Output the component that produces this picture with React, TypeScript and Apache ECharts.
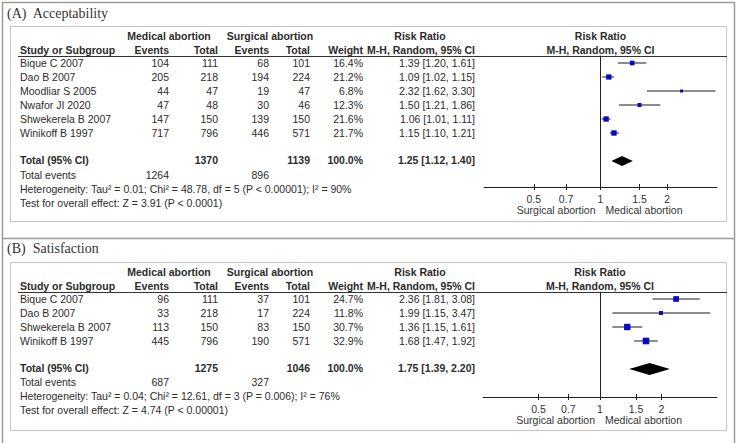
import React, { useEffect, useRef } from "react";
import * as echarts from "echarts";

// ---------- Data: (A) Acceptability ----------
const studiesA = ["Bique C 2007", "Dao B 2007", "Moodliar S 2005", "Nwafor JI 2020", "Shwekerela B 2007", "Winikoff B 1997"];
const medEventsA = [104, 205, 44, 47, 147, 717];
const medTotalA = [111, 218, 47, 48, 150, 796];
const surgEventsA = [68, 194, 19, 30, 139, 446];
const surgTotalA = [101, 224, 47, 46, 150, 571];
const weightA = [16.4, 21.2, 6.8, 12.3, 21.6, 21.7];
const rrA = [1.39, 1.09, 2.32, 1.5, 1.06, 1.15];
const loA = [1.2, 1.02, 1.62, 1.21, 1.01, 1.1];
const hiA = [1.61, 1.15, 3.3, 1.86, 1.11, 1.21];
const totalsA = [1370, 1139];
const totalEventsA = [1264, 896];
const pooledA = [1.25, 1.12, 1.4];
const hetA = "Heterogeneity: Tau\u00b2 = 0.01; Chi\u00b2 = 48.78, df = 5 (P < 0.00001); I\u00b2 = 90%";
const testA = "Test for overall effect: Z = 3.91 (P < 0.0001)";

// ---------- Data: (B) Satisfaction ----------
const studiesB = ["Bique C 2007", "Dao B 2007", "Shwekerela B 2007", "Winikoff B 1997"];
const medEventsB = [96, 33, 113, 445];
const medTotalB = [111, 218, 150, 796];
const surgEventsB = [37, 17, 83, 190];
const surgTotalB = [101, 224, 150, 571];
const weightB = [24.7, 11.8, 30.7, 32.9];
const rrB = [2.36, 1.99, 1.36, 1.68];
const loB = [1.81, 1.15, 1.15, 1.47];
const hiB = [3.08, 3.47, 1.61, 1.92];
const totalsB = [1275, 1046];
const totalEventsB = [687, 327];
const pooledB = [1.75, 1.39, 2.2];
const hetB = "Heterogeneity: Tau\u00b2 = 0.04; Chi\u00b2 = 12.61, df = 3 (P = 0.006); I\u00b2 = 76%";
const testB = "Test for overall effect: Z = 4.74 (P < 0.00001)";

const tickValues = [0.5, 0.7, 1, 1.5, 2];
const titles = ["(A)  Acceptability", "(B)  Satisfaction"];

const ROW_H = 14;
const SANS = "'Liberation Sans', Arial, sans-serif";
const SERIF = "'Liberation Serif', 'Times New Roman', serif";
const TXT = "#2b2b2b";

const layoutA = { titleY: 13, boxTop: 26, boxBottom: 221, head1Y: 36, head2Y: 50, lineY: 56, rowTop: 63, totalIdx: 7, totalY: 160, eventsY: 175, hetY: 189, testY: 203, axisY: 187, gridLeft: 484, gridRight: 717, xRange: 1.21, nameY: 210 };
const layoutB = { titleY: 248, boxTop: 262, boxBottom: 430, head1Y: 272, head2Y: 286, lineY: 292, rowTop: 299, totalIdx: 5, totalY: 368, eventsY: 382, hetY: 396, testY: 410, axisY: 397, gridLeft: 483, gridRight: 717, xRange: 1.32, nameY: 420 };

const panels = [
  { title: titles[0], L: layoutA, studies: studiesA, me: medEventsA, mt: medTotalA, se: surgEventsA, st: surgTotalA, w: weightA, rr: rrA, lo: loA, hi: hiA, totals: totalsA, te: totalEventsA, pooled: pooledA, het: hetA, test: testA },
  { title: titles[1], L: layoutB, studies: studiesB, me: medEventsB, mt: medTotalB, se: surgEventsB, st: surgTotalB, w: weightB, rr: rrB, lo: loB, hi: hiB, totals: totalsB, te: totalEventsB, pooled: pooledB, het: hetB, test: testB },
];

const COL = { study: 20, me: 169, mt: 218, se: 269, st: 310, w: 363, rr: 475 };

function txt(text: string, x: number, y: number, align = "left", bold = false, size = 10.5, color = TXT, family = SANS) {
  return {
    type: "text",
    silent: true,
    style: {
      text, x, y,
      textAlign: align, align,
      textVerticalAlign: "middle", verticalAlign: "middle",
      font: `${bold ? "bold " : ""}${size}px ${family}`,
      fill: color,
    },
  };
}

function fmtCI(r: number, l: number, h: number) {
  return `${r.toFixed(2)} [${l.toFixed(2)}, ${h.toFixed(2)}]`;
}

function buildOption() {
  const grids: any[] = [];
  const xAxes: any[] = [];
  const yAxes: any[] = [];
  const series: any[] = [];
  const graphics: any[] = [];

  // outer frame and separator
  graphics.push({ type: "rect", silent: true, shape: { x: 2.5, y: 2.5, width: 732, height: 460 }, style: { fill: "none", stroke: "#9a9a9a", lineWidth: 1.5 } });
  graphics.push({ type: "line", silent: true, shape: { x1: 2, y1: 238.5, x2: 735, y2: 238.5 }, style: { stroke: "#9a9a9a", lineWidth: 1.5 } });

  panels.forEach((p, gi) => {
    const L = p.L;
    const width = L.gridRight - L.gridLeft;
    const center = L.gridLeft + width / 2;
    const yMax = (L.axisY - L.rowTop) / ROW_H;
    grids.push({ left: L.gridLeft, top: L.lineY, width, height: L.axisY - L.lineY });

    const tickLn = tickValues.map((t) => Math.log(t));
    xAxes.push({
      type: "value", gridIndex: gi, min: -L.xRange, max: L.xRange, position: "bottom",
      axisLine: { show: true, onZero: false, lineStyle: { color: "#222", width: 1 } },
      axisTick: { show: true, length: 3, customValues: tickLn, lineStyle: { color: "#222" } },
      axisLabel: {
        show: true, customValues: tickLn, margin: 6, color: "#333", fontSize: 10.5, fontFamily: SANS,
        formatter: (v: number) => {
          const i = tickValues.findIndex((t) => Math.abs(Math.log(t) - v) < 1e-6);
          return i >= 0 ? String(tickValues[i]) : "";
        },
      },
      splitLine: { show: false },
    });
    xAxes.push({
      type: "value", gridIndex: gi, min: -L.xRange, max: L.xRange, position: "bottom",
      axisLine: { show: false, onZero: false },
      axisTick: { show: true, inside: true, length: 3, customValues: tickLn, lineStyle: { color: "#222" } },
      axisLabel: { show: false },
      splitLine: { show: false },
    });
    yAxes.push({
      type: "value", gridIndex: gi, min: -0.5, max: yMax, inverse: true,
      axisLine: { show: true, onZero: true, onZeroAxisIndex: gi * 2, lineStyle: { color: "#222", width: 1 } },
      axisTick: { show: false }, axisLabel: { show: false }, splitLine: { show: false },
    });

    // studies: CI lines + squares
    const data = p.rr.map((r, i) => [Math.log(r), Math.log(p.lo[i]), Math.log(p.hi[i]), i, p.w[i]]);
    series.push({
      type: "custom", xAxisIndex: gi * 2, yAxisIndex: gi, silent: true,
      encode: { x: [0, 1, 2], y: 3 },
      data,
      renderItem: (params: any, api: any) => {
        const y = api.value(3);
        const a = api.coord([api.value(1), y]);
        const b = api.coord([api.value(2), y]);
        const c = api.coord([api.value(0), y]);
        const s = Math.sqrt(api.value(4)) * 1.15;
        return {
          type: "group",
          children: [
            { type: "line", shape: { x1: a[0], y1: a[1], x2: b[0], y2: b[1] }, style: { stroke: "#1a1a1a", lineWidth: 1 } },
            { type: "rect", shape: { x: c[0] - s / 2, y: c[1] - s / 2, width: s, height: s }, style: { fill: "#0a0ac4" } },
          ],
        };
      },
    });
    // pooled diamond
    series.push({
      type: "custom", xAxisIndex: gi * 2, yAxisIndex: gi, silent: true,
      encode: { x: [0, 1, 2], y: 3 },
      data: [[Math.log(p.pooled[0]), Math.log(p.pooled[1]), Math.log(p.pooled[2]), L.totalIdx]],
      renderItem: (params: any, api: any) => {
        const y = api.value(3);
        const l = api.coord([api.value(1), y]);
        const r = api.coord([api.value(2), y]);
        const c = api.coord([api.value(0), y]);
        const h = gi === 0 ? 5 : 6;
        return {
          type: "polygon",
          shape: { points: [[l[0], l[1]], [c[0], c[1] - h], [r[0], r[1]], [c[0], c[1] + h]] },
          style: { fill: "#000" },
        };
      },
    });

    // title and box
    graphics.push(txt(p.title, 7, L.titleY, "left", false, 14, "#333", SERIF));
    graphics.push({ type: "rect", silent: true, shape: { x: 10.5, y: L.boxTop + 0.5, width: 716, height: L.boxBottom - L.boxTop }, style: { fill: "none", stroke: "#c4c4c4", lineWidth: 1 } });
    graphics.push({ type: "line", silent: true, shape: { x1: 18, y1: L.lineY + 0.5, x2: 727, y2: L.lineY + 0.5 }, style: { stroke: "#333", lineWidth: 1 } });

    // headers
    graphics.push(txt("Medical abortion", 169, L.head1Y, "center", true));
    graphics.push(txt("Surgical abortion", 270, L.head1Y, "center", true));
    graphics.push(txt("Risk Ratio", 420, L.head1Y, "center", true));
    graphics.push(txt("Risk Ratio", center, L.head1Y, "center", true));
    graphics.push(txt("Study or Subgroup", COL.study, L.head2Y, "left", true));
    graphics.push(txt("Events", COL.me, L.head2Y, "right", true));
    graphics.push(txt("Total", COL.mt, L.head2Y, "right", true));
    graphics.push(txt("Events", COL.se, L.head2Y, "right", true));
    graphics.push(txt("Total", COL.st, L.head2Y, "right", true));
    graphics.push(txt("Weight", COL.w, L.head2Y, "right", true));
    graphics.push(txt("M-H, Random, 95% CI", COL.rr, L.head2Y, "right", true));
    graphics.push(txt("M-H, Random, 95% CI", center, L.head2Y, "center", true));

    // rows
    p.studies.forEach((s, i) => {
      const y = L.rowTop + i * ROW_H;
      graphics.push(txt(s, COL.study, y));
      graphics.push(txt(String(p.me[i]), COL.me, y, "right"));
      graphics.push(txt(String(p.mt[i]), COL.mt, y, "right"));
      graphics.push(txt(String(p.se[i]), COL.se, y, "right"));
      graphics.push(txt(String(p.st[i]), COL.st, y, "right"));
      graphics.push(txt(p.w[i].toFixed(1) + "%", COL.w, y, "right"));
      graphics.push(txt(fmtCI(p.rr[i], p.lo[i], p.hi[i]), COL.rr, y, "right"));
    });

    // totals
    graphics.push(txt("Total (95% CI)", COL.study, L.totalY, "left", true));
    graphics.push(txt(String(p.totals[0]), COL.mt, L.totalY, "right", true));
    graphics.push(txt(String(p.totals[1]), COL.st, L.totalY, "right", true));
    graphics.push(txt("100.0%", COL.w, L.totalY, "right", true));
    graphics.push(txt(fmtCI(p.pooled[0], p.pooled[1], p.pooled[2]), COL.rr, L.totalY, "right", true));
    graphics.push(txt("Total events", COL.study, L.eventsY));
    graphics.push(txt(String(p.te[0]), COL.me, L.eventsY, "right"));
    graphics.push(txt(String(p.te[1]), COL.se, L.eventsY, "right"));
    graphics.push(txt(p.het, COL.study, L.hetY));
    graphics.push(txt(p.test, COL.study, L.testY));

    // axis direction labels
    const zeroX = L.gridLeft + width * (L.xRange / (2 * L.xRange));
    graphics.push(txt("Surgical abortion", zeroX - 5, L.nameY, "right", false, 10.5, "#333"));
    graphics.push(txt("Medical abortion", zeroX + 5, L.nameY, "left", false, 10.5, "#333"));
  });

  return {
    animation: false,
    backgroundColor: "#fff",
    grid: grids,
    xAxis: xAxes,
    yAxis: yAxes,
    series,
    graphic: { elements: graphics },
  };
}

export default function App() {
  const ref = useRef<HTMLDivElement>(null);
  useEffect(() => {
    document.body.style.margin = "0";
    if (!ref.current) return;
    const chart = echarts.init(ref.current, undefined, { renderer: "svg" });
    chart.setOption(buildOption() as any);
    return () => chart.dispose();
  }, []);
  return <div ref={ref} style={{ width: 737, height: 443 }} />;
}
